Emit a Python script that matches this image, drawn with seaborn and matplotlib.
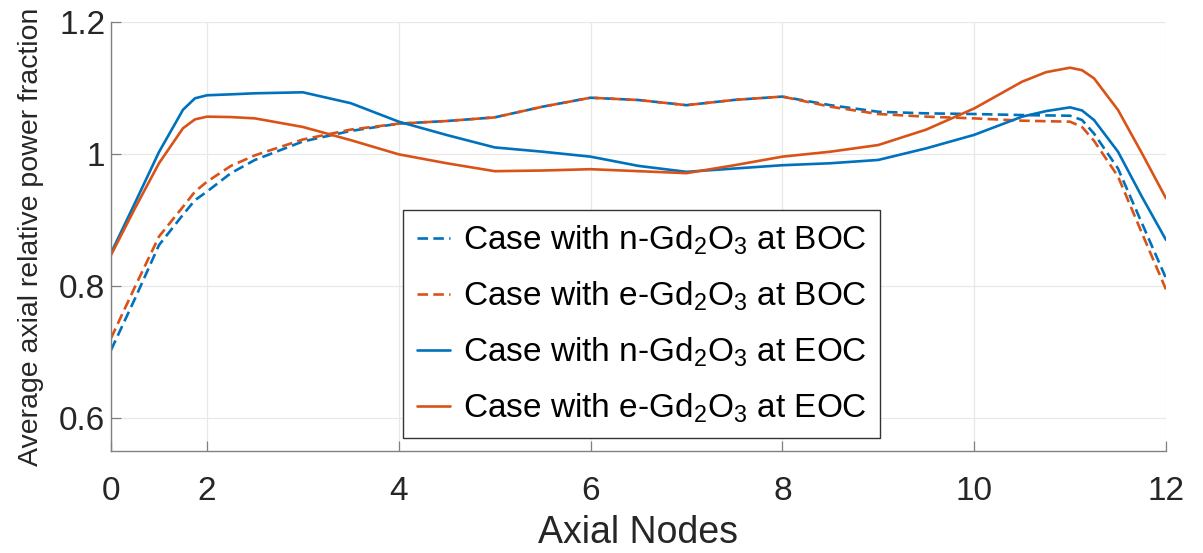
import numpy as np
import pandas as pd
import matplotlib
matplotlib.use("Agg")
import matplotlib.pyplot as plt
from matplotlib.lines import Line2D
import seaborn as sns

# Axial positions (node index) and the average axial relative power fraction
axial_pos = [1, 1.25, 1.5, 1.75, 1.875, 2, 2.25, 2.5, 3, 3.5, 4, 4.5, 5, 5.5, 6,
             6.5, 7, 7.5, 8, 8.5, 9, 9.5, 10, 10.5, 10.75, 11, 11.125, 11.25,
             11.5, 11.75, 12]

n_gd_boc = [0.703, 0.781, 0.862, 0.908, 0.930, 0.943, 0.971, 0.991, 1.019, 1.035,
            1.046, 1.050, 1.0555, 1.0717, 1.0853, 1.0818, 1.074, 1.082, 1.087,
            1.074, 1.064, 1.0616, 1.0606, 1.059, 1.0585, 1.058, 1.0515, 1.031,
            0.978, 0.895, 0.812]

e_gd_boc = [0.721, 0.799, 0.875, 0.920, 0.943, 0.958, 0.982, 0.998, 1.022, 1.037,
            1.046, 1.050, 1.0555, 1.0717, 1.0853, 1.0818, 1.074, 1.082, 1.087,
            1.0717, 1.0606, 1.0566, 1.054, 1.0505, 1.0497, 1.049, 1.041, 1.020,
            0.966, 0.880, 0.795]

n_gd_eoc = [0.850, 0.926, 1.003, 1.067, 1.0844, 1.089, 1.0904, 1.092, 1.0935,
            1.077, 1.049, 1.0288, 1.010, 1.0035, 0.996, 0.982, 0.973, 0.978,
            0.983, 0.986, 0.991, 1.0086, 1.029, 1.0566, 1.065, 1.0707, 1.066,
            1.0515, 1.0035, 0.935, 0.870]

e_gd_eoc = [0.847, 0.918, 0.986, 1.039, 1.0525, 1.0566, 1.056, 1.054, 1.041, 1.021,
            0.9995, 0.986, 0.974, 0.975, 0.977, 0.974, 0.971, 0.983, 0.996,
            1.0035, 1.0136, 1.037, 1.069, 1.1096, 1.124, 1.1308, 1.127, 1.1147,
            1.0667, 1.001, 0.933]

labels = [r"Case with n-Gd$_2$O$_3$ at BOC",
          r"Case with e-Gd$_2$O$_3$ at BOC",
          r"Case with n-Gd$_2$O$_3$ at EOC",
          r"Case with e-Gd$_2$O$_3$ at EOC"]

x_ticks = [1, 2, 4, 6, 8, 10, 12]
x_tick_labels = ["0", "2", "4", "6", "8", "10", "12"]
y_ticks = [0.6, 0.8, 1.0, 1.2]
y_tick_labels = ["0.6", "0.8", "1", "1.2"]

BLUE = "#0072BD"
ORANGE = "#D95319"
DASH = (4, 2)

sns.set_theme(style="white")
plt.rcParams["font.family"] = ["Liberation Sans", "DejaVu Sans"]
plt.rcParams["mathtext.fontset"] = "custom"
plt.rcParams["mathtext.rm"] = "Liberation Sans"
plt.rcParams["mathtext.it"] = "Liberation Sans:italic"
plt.rcParams["mathtext.bf"] = "Liberation Sans:bold"

fig = plt.figure(figsize=(12.03, 5.53), dpi=100)
ax = fig.add_axes([0.0923, 0.1844, 0.8769, 0.7758])

series = [
    (n_gd_boc, BLUE, True),
    (e_gd_boc, ORANGE, True),
    (n_gd_eoc, BLUE, False),
    (e_gd_eoc, ORANGE, False),
]

df = pd.DataFrame({"node": axial_pos})
handles = []
for (vals, color, dashed), lab in zip(series, labels):
    df["frac"] = vals
    sns.lineplot(data=df, x="node", y="frac", ax=ax, color=color,
                 linewidth=1.9, legend=False)
    line = ax.lines[-1]
    line.set_solid_joinstyle("round")
    line.set_dash_joinstyle("round")
    if dashed:
        line.set_dashes(DASH)
    h = Line2D([], [], color=color, linewidth=1.9)
    if dashed:
        h.set_dashes(DASH)
    handles.append(h)

ax.set_xlim(1, 12)
ax.set_ylim(0.55, 1.2)
ax.set_xticks(x_ticks)
ax.set_xticklabels(x_tick_labels)
ax.set_yticks(y_ticks)
ax.set_yticklabels(y_tick_labels)

ax.grid(True, color="#e8e8e8", linewidth=0.9)
ax.set_axisbelow(True)
for side in ["top", "right"]:
    ax.spines[side].set_visible(False)
for side in ["left", "bottom"]:
    ax.spines[side].set_color("#808080")
    ax.spines[side].set_linewidth(1.0)

ax.tick_params(axis="both", direction="in", length=7, width=0.9,
               color="#808080", labelcolor="#262626", labelsize=24)
ax.tick_params(axis="x", pad=18, bottom=True)
ax.tick_params(axis="y", pad=4, left=True)

ax.set_xlabel("Axial Nodes", fontsize=27, color="#262626", labelpad=6)
ax.set_ylabel("Average axial relative power fraction", fontsize=20.5,
              color="#262626", labelpad=11)

leg = ax.legend(handles, labels, loc="lower left", bbox_to_anchor=(0.277, 0.03),
                fontsize=24, frameon=True, fancybox=False, framealpha=1,
                edgecolor="#333333", handlelength=1.0, handletextpad=0.4,
                borderpad=0.4, labelspacing=0.68, borderaxespad=0)
leg.get_frame().set_linewidth(1.0)
for t in leg.get_texts():
    t.set_color("black")

fig.savefig("out.png", dpi=100)
